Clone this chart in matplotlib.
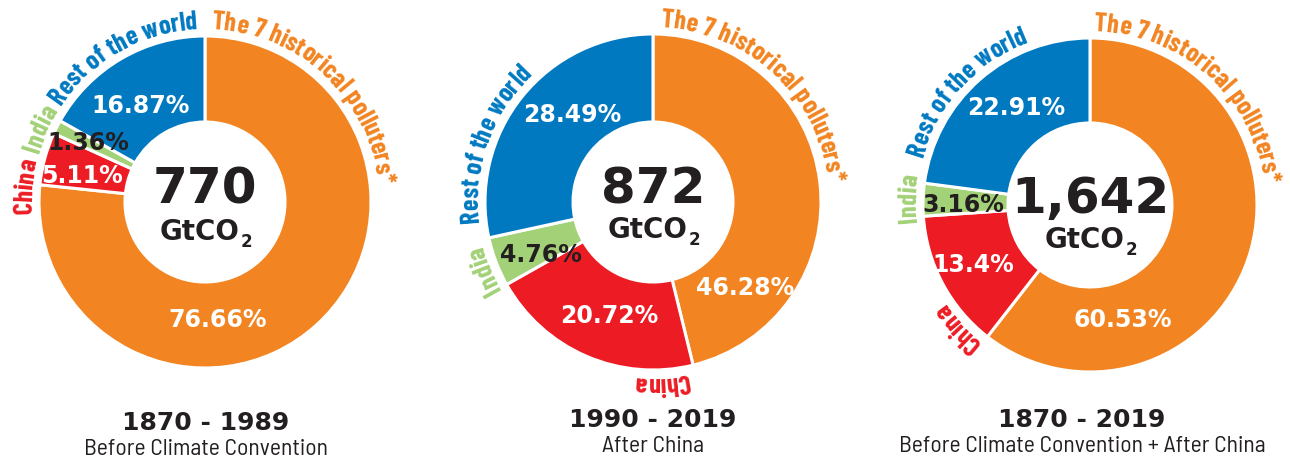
import matplotlib
matplotlib.use("Agg")
import matplotlib.pyplot as plt
import numpy as np
from matplotlib.font_manager import FontProperties

# --- data -------------------------------------------------------------------
categories = ["The 7 historical polluters*", "China", "India", "Rest of the world"]
colors = ["#F28522", "#ED1C24", "#A3D177", "#0079C1"]
pct_colors = ["white", "white", "#231F20", "white"]

share_1870_1989 = [76.66, 5.11, 1.36, 16.87]
share_1990_2019 = [46.28, 20.72, 4.76, 28.49]
share_1870_2019 = [60.53, 13.4, 3.16, 22.91]
shares = [share_1870_1989, share_1990_2019, share_1870_2019]

totals = ["770", "872", "1,642"]
periods = ["1870 - 1989", "1990 - 2019", "1870 - 2019"]
subtitles = ["Before Climate Convention", "After China",
             "Before Climate Convention + After China"]

# --- layout (pixels, image coords: y down) ----------------------------------
W, H = 1290, 459
centers = [(205, 202), (653, 202), (1090, 205)]
radii = [166, 168, 167]
holes = [80, 80, 82]
# mid angle of each outer label, degrees clockwise from 12 o'clock
label_mid = [[43, -85, -66, -29.5], [43, 177, -112, -70], [42, -133, -88, -47.5]]
# percentage labels: (x centre, baseline y)
pct_pos = [
    [(218, 327), (82, 183), (88, 150), (141, 113)],
    [(745, 295), (609, 323), (541, 262), (572, 122)],
    [(1123, 327), (973, 272), (963, 212), (1016, 115)],
]
total_base = [204, 203, 213]
gt_base = [240, 238, 248]
title_x = [206, 653, 1082]
title_base = [430, 427, 427]
sub_base = [455, 452, 452]

DARK = "#231F20"
BOLD = ["DejaVu Sans"]
COND = ["Barlow Condensed", "Roboto Condensed", "Liberation Sans Narrow", "DejaVu Sans"]
SEMI = ["Barlow Semi Condensed", "Barlow Condensed", "Roboto Condensed", "DejaVu Sans"]

fp_label = FontProperties(family=COND, weight="bold", size=19)
fp_total = FontProperties(family=BOLD, weight="bold", size=36)
fp_gt = FontProperties(family=BOLD, weight="bold", size=20)
fp_sub2 = FontProperties(family=BOLD, weight="bold", size=12)
fp_pct = FontProperties(family=BOLD, weight="bold", size=17)
fp_title = FontProperties(family=BOLD, weight="bold", size=18)
fp_subt = FontProperties(family=SEMI, weight="normal", size=17)

fig = plt.figure(figsize=(W / 100, H / 100), dpi=100)
ax = fig.add_axes([0, 0, 1, 1])
renderer = fig.canvas.get_renderer()


def text_w(s, fp):
    w, _, _ = renderer.get_text_width_height_descent(s, fp, ismath=False)
    return w


def yy(y):
    return H - y


def curved_label(s, cx, cy, r, mid_deg, fp, color):
    ref = text_w("HH", fp)
    pos = [text_w("H" + s[:i] + "H", fp) - ref for i in range(len(s) + 1)]
    total = pos[-1]
    for i, ch in enumerate(s):
        if ch == " ":
            continue
        d = (pos[i] + pos[i + 1]) / 2 - total / 2
        th = np.radians(mid_deg) + d / r
        ax.text(cx + r * np.sin(th), cy + r * np.cos(th), ch,
                rotation=-np.degrees(th), rotation_mode="anchor",
                ha="center", va="baseline", fontproperties=fp, color=color)


for k, vals in enumerate(shares):
    cx, cy = centers[k][0], yy(centers[k][1])
    R = radii[k]
    ax.pie(vals, colors=colors, startangle=90, counterclock=False,
           radius=R, center=(cx, cy),
           wedgeprops=dict(width=R - holes[k], edgecolor="white", linewidth=2.2))

    for j, cat in enumerate(categories):
        curved_label(cat, cx, cy, R + 7, label_mid[k][j], fp_label, colors[j])
        px, py = pct_pos[k][j]
        ax.text(px, yy(py), f"{vals[j]:g}%", ha="center", va="baseline",
                fontproperties=fp_pct, color=pct_colors[j])

    ax.text(cx, yy(total_base[k]), totals[k], ha="center", va="baseline",
            fontproperties=fp_total, color=DARK)
    gx = cx - 5
    ax.text(gx, yy(gt_base[k]), "GtCO", ha="center", va="baseline",
            fontproperties=fp_gt, color=DARK)
    ax.text(gx + text_w("GtCO", fp_gt) / 2 + 1, yy(gt_base[k] + 7), "2",
            ha="left", va="baseline", fontproperties=fp_sub2, color=DARK)

    ax.text(title_x[k], yy(title_base[k]), periods[k], ha="center",
            va="baseline", fontproperties=fp_title, color=DARK)
    ax.text(title_x[k], yy(sub_base[k]), subtitles[k], ha="center",
            va="baseline", fontproperties=fp_subt, color=DARK)

ax.set_xlim(0, W)
ax.set_ylim(0, H)
ax.set_aspect("auto")
ax.axis("off")
fig.savefig("out.png", dpi=100, facecolor="white")
